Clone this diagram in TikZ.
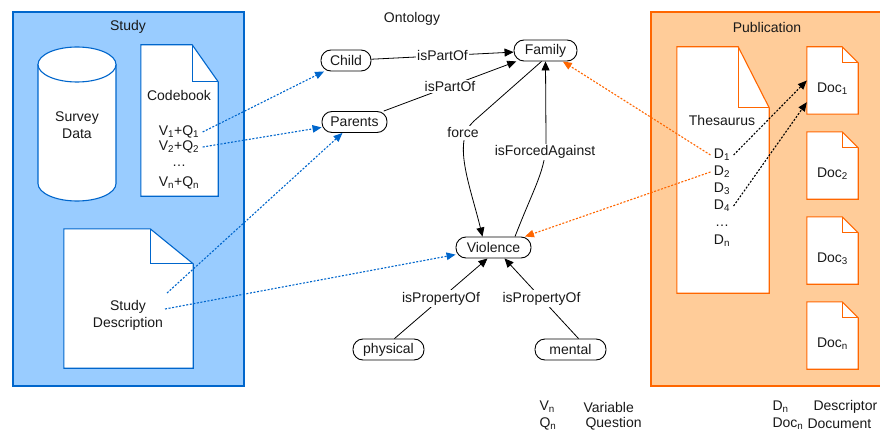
\documentclass[tikz,border=0pt]{standalone}
\usepackage{fontspec}
\setmainfont{Liberation Sans}
\usetikzlibrary{arrows.meta,calc}

\definecolor{studyfill}{RGB}{153,204,255}
\definecolor{studyline}{RGB}{0,102,204}
\definecolor{pubfill}{RGB}{255,204,153}
\definecolor{publine}{RGB}{255,102,0}
\definecolor{ink}{RGB}{25,25,25}

% Page with a folded top-right corner, drawn over an invisible frame node.
% #1 frame node, #2 fold width, #3 fold height, #4 colour
\newcommand\foldeddoc[4]{%
  \draw[#4, line width=1.1pt, fill=white, line join=miter]
    (#1.north west) -- ($(#1.north east)+(-#2,0)$) -- ($(#1.north east)+(0,#3)$)
    -- (#1.south east) -- (#1.south west) -- cycle;
  \draw[#4, line width=1.1pt]
    ($(#1.north east)+(-#2,0)$) -- ($(#1.north east)+(-#2,#3)$) -- ($(#1.north east)+(0,#3)$);
}

\tikzset{
  every node/.style={font=\fontsize{14}{17}\selectfont, text=ink},
  container/.style={draw=#1, line width=2pt, inner sep=0pt},
  docframe/.style={draw=none, inner sep=0pt},
  dotsnode/.style={inner sep=0pt},
  onto/.style={draw=black, line width=0.9pt, rounded corners=10pt, minimum height=21pt,
               inner xsep=3pt, inner ysep=0pt, fill=white},
  rel/.style={draw=black, line width=0.8pt, -{Triangle[length=9pt,width=8pt]}},
  lbl/.style={fill=white, inner sep=1.5pt},
  dotlink/.style={line width=1.1pt, dash pattern=on 2pt off 1.6pt,
                  -{Triangle[length=9pt,width=7.5pt]}},
  bluelink/.style={dotlink, draw=studyline},
  orangelink/.style={dotlink, draw=publine},
  blacklink/.style={dotlink, draw=black},
}

\begin{document}
\begin{tikzpicture}[x=1pt, y=-1pt]
\clip (0,0) rectangle (880,433);

% ---------- containers ----------
\node[container=studyline, fill=studyfill, minimum width=231pt, minimum height=374pt] (study) at (128.5,199) {};
\node (studytitle) at (128,27) {Study};
\node[container=publine, fill=pubfill, minimum width=244pt, minimum height=374pt] (publication) at (773,199) {};
\node (pubtitle) at (767,27) {Publication};

% ---------- study side ----------
\fill[white] (38,64.5) -- (38,183.5) .. controls (38,193.2) and (55.5,201) .. (77,201)
  .. controls (98.5,201) and (116,193.2) .. (116,183.5) -- (116,64.5) -- cycle;
\draw[studyline, line width=1.1pt] (38,64.5) -- (38,183.5) .. controls (38,193.2) and (55.5,201) .. (77,201)
  .. controls (98.5,201) and (116,193.2) .. (116,183.5) -- (116,64.5);
\draw[studyline, line width=1.1pt, fill=white] (77,64.5) ellipse [x radius=39, y radius=17.5];
\node[align=center] (survey) at (77,125) {Survey\\Data};

\node[docframe, minimum width=77pt, minimum height=151pt] (codebook) at (179.5,120.5) {};
\foldeddoc{codebook}{26}{37}{studyline}
\node (cbtitle) at (179,95) {Codebook};
\node (vq1) at (179,132) {V\textsubscript{1}+Q\textsubscript{1}};
\node (vq2) at (179,147) {V\textsubscript{2}+Q\textsubscript{2}};
\node[dotsnode] (vqdots) at (179,166) {\ldots};
\node (vqn) at (179,183) {V\textsubscript{n}+Q\textsubscript{n}};

\node[docframe, minimum width=129pt, minimum height=139pt] (studydesc) at (128.5,298.5) {};
\foldeddoc{studydesc}{43}{35}{studyline}
\node[align=center] (sdtext) at (128,315.5) {Study\\Description};
\coordinate (sd1) at (167,293);
\coordinate (sd2) at (165,309);

% ---------- publication side ----------
\node[docframe, minimum width=92pt, minimum height=246pt] (thesaurus) at (723,170) {};
\foldeddoc{thesaurus}{31}{61}{publine}
\node (thtitle) at (722,120) {Thesaurus};
\node (d1) at (722,155) {D\textsubscript{1}};
\node (d2) at (722,172) {D\textsubscript{2}};
\node (d3) at (722,189) {D\textsubscript{3}};
\node (d4) at (722,206) {D\textsubscript{4}};
\node[dotsnode] (ddots) at (722,226) {\ldots};
\node (dn) at (722,241) {D\textsubscript{n}};

\foreach \name/\cy/\sub in {doc1/80.5/1, doc2/165.5/2, doc3/250.5/3, docn/335.5/n} {
  \node[docframe, minimum width=51pt, minimum height=67pt] (\name) at (832.5,\cy) {};
  \foldeddoc{\name}{16}{16}{publine}
  \node (\name label) at (832.5,\cy+8) {Doc\textsubscript{\sub}};
}
\coordinate (doc1low) at ($(doc1.south west)+(0,-12)$);

% ---------- ontology ----------
\node (ontotitle) at (412,19) {Ontology};
\node[onto, minimum width=50pt] (child) at (346,60.5) {Child};
\node[onto, minimum width=63pt] (family) at (545.5,50.5) {Family};
\node[onto, minimum width=65pt] (parents) at (354.5,122) {Parents};
\node[onto, minimum width=75pt] (violence) at (493.5,247.5) {Violence};
\node[onto, minimum width=71pt] (physical) at (388.5,349.5) {physical};
\node[onto, minimum width=71pt] (mental) at (570.5,349.5) {mental};

\draw[rel] (child) -- node[lbl] {isPartOf} (family);
\draw[rel] (parents) -- node[lbl] {isPartOf} (family);
\draw[rel] ([xshift=-4pt]family.south) -- (474,121)
  .. controls (451.5,141) and (470,185) .. ([xshift=-11pt]violence.north);
\node[lbl] (forcelbl) at (463,133) {force};
\draw[rel] ([xshift=21.5pt]violence.north) .. controls (535,185) and (546,170) .. (546,140)
  -- (family.south);
\node[lbl] (againstlbl) at (545,152) {isForcedAgainst};
\draw[rel] ([xshift=6pt]physical.north) -- node[lbl] {isPropertyOf} ([xshift=-6pt]violence.south);
\draw[rel] ([xshift=8pt]mental.north) -- node[lbl] {isPropertyOf} ([xshift=11pt]violence.south);

% ---------- annotations between the three parts ----------
\draw[bluelink] (vq1.east) -- (child);
\draw[bluelink] (vq2.east) -- (parents);
\draw[bluelink] (sd1) -- (parents);
\draw[bluelink] (sd2) -- (violence);
\draw[orangelink] (d1.west) -- (family);
\draw[orangelink] (d2.west) -- (violence);
\draw[blacklink] (d1.east) -- (doc1.west);
\draw[blacklink] (d4.east) -- (doc1low);

% ---------- legend ----------
\node[anchor=west] (lv) at (536,407) {V\textsubscript{n}};
\node[anchor=west] (lvt) at (580,407) {Variable};
\node[anchor=west] (lq) at (536,424) {Q\textsubscript{n}};
\node[anchor=west] (lqt) at (582,424) {Question};
\node[anchor=west] (ld) at (769,407) {D\textsubscript{n}};
\node[anchor=west] (ldt) at (810,407) {Descriptor};
\node[anchor=west] (ldoc) at (769,424) {Doc\textsubscript{n}};
\node[anchor=west] (ldoct) at (804,424) {Document};
\end{tikzpicture}
\end{document}
